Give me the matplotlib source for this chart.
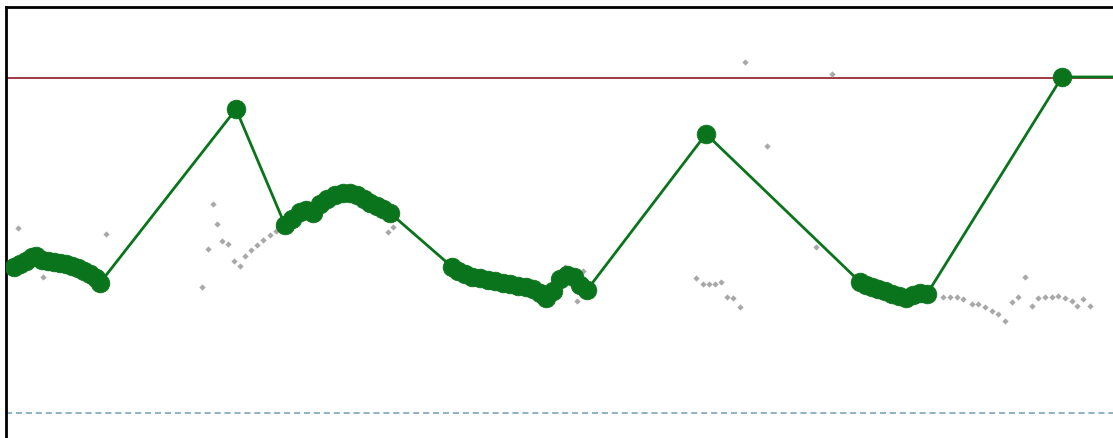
import matplotlib.pyplot as plt
import numpy as np

# control limits
ucl = 10.0
lcl = 0.0

# smoothed trend (green)
trend_x = [8, 14, 20, 26, 30, 36, 42, 48, 54, 60, 66, 72, 78, 84, 90, 94,
           230, 279, 286, 294, 300, 307, 314, 321, 329, 337, 344, 351, 358, 364, 371, 377, 384,
           446, 452, 459, 466, 474, 482, 489, 497, 504, 512, 520, 527, 534, 540, 547, 554, 561, 568, 574, 581,
           700, 854, 860, 866, 872, 879, 886, 893, 900, 907, 914, 921,
           1056, 1130]
trend_y = [4.36, 4.45, 4.54, 4.66, 4.69, 4.57, 4.54, 4.51, 4.48, 4.45, 4.39, 4.33, 4.24, 4.15, 4.03, 3.88,
           9.07, 5.61, 5.79, 6.00, 6.06, 5.97, 6.24, 6.39, 6.51, 6.57, 6.57, 6.51, 6.39, 6.27, 6.18, 6.09, 5.97,
           4.36, 4.24, 4.15, 4.06, 4.03, 3.97, 3.94, 3.88, 3.85, 3.79, 3.76, 3.70, 3.58, 3.43, 3.64, 4.00, 4.12, 4.06, 3.82, 3.67,
           8.33, 3.91, 3.82, 3.76, 3.70, 3.64, 3.55, 3.49, 3.43, 3.52, 3.58, 3.55,
           10.03, 10.03]

# raw readings (grey)
raw_x = [12, 37, 100, 196, 202, 207, 211, 216, 222, 228, 234, 239, 245, 251, 257, 264, 270,
         382, 387, 559, 571, 577,
         690, 697, 703, 709, 715, 721, 727, 734, 739, 761, 810, 826,
         937, 944, 951, 957, 966, 972, 979, 986, 992, 999, 1006, 1012, 1019, 1026, 1032, 1039,
         1046, 1052, 1059, 1066, 1071, 1077, 1084]
raw_y = [5.52, 4.06, 5.34, 3.76, 4.90, 6.24, 5.64, 5.13, 5.04, 4.54, 4.39, 4.69, 4.87, 5.01, 5.16, 5.31, 5.43,
         5.40, 5.55, 4.36, 3.34, 4.24,
         4.03, 3.85, 3.85, 3.85, 3.91, 3.46, 3.43, 3.16, 10.48, 7.97, 4.96, 10.12,
         3.46, 3.46, 3.46, 3.40, 3.25, 3.25, 3.16, 3.04, 2.96, 2.75, 3.31, 3.46, 4.06, 3.19, 3.43,
         3.46, 3.46, 3.49, 3.43, 3.34, 3.19, 3.40, 3.19]

fig = plt.figure(figsize=(11.13, 4.39), dpi=100)
ax = fig.add_axes([6 / 1113, 0, 1 - 6 / 1113, 431 / 439])

ax.axhline(ucl, color='#9a2a36', lw=1.3, zorder=1)
ax.axhline(lcl, color='#6f9fb5', lw=1.1, ls=(0, (4, 2.5)), zorder=1)

ax.plot(raw_x, raw_y, ls='none', marker='D', ms=3.2, color='#a8a8a8', mec='none', zorder=2)
ax.plot(trend_x, trend_y, color='#0a741c', lw=2.0, marker='o', ms=13.5, mec='#0a741c', mew=0.5, zorder=3)

ax.set_xlim(0, 1107)
ax.set_ylim(-0.75, 12.12)
ax.set_xticks([])
ax.set_yticks([])
for side in ('right', 'bottom'):
    ax.spines[side].set_visible(False)
for side in ('left', 'top'):
    ax.spines[side].set_linewidth(2)
    ax.spines[side].set_color('black')

fig.savefig('out.png', dpi=100)
